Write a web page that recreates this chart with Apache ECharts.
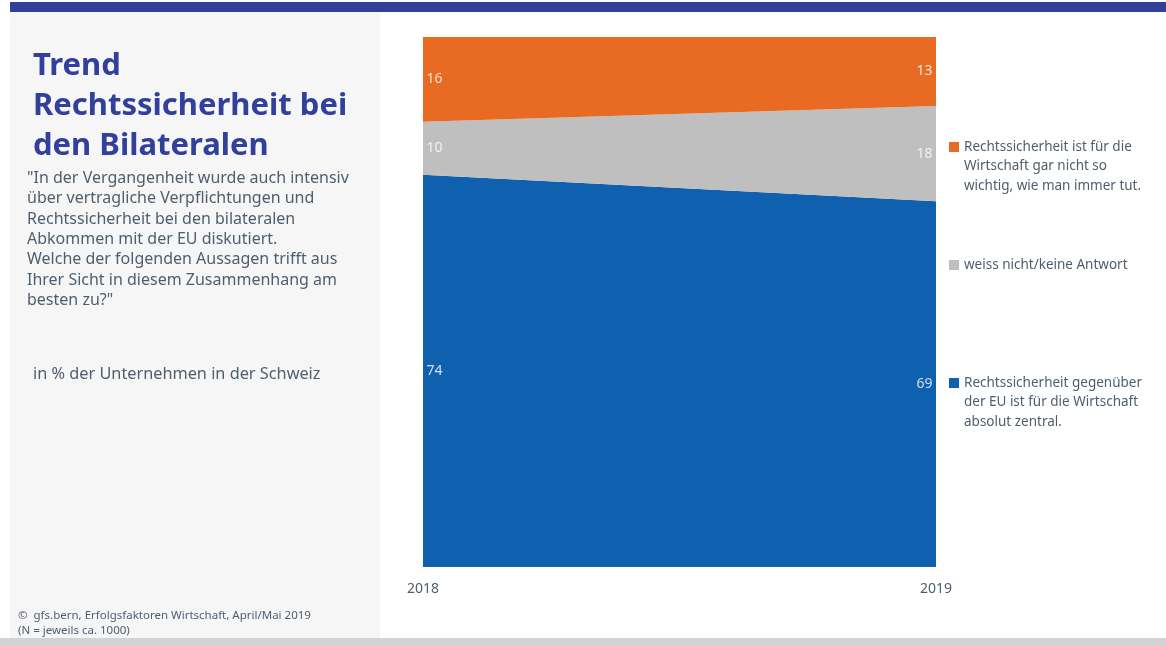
<!DOCTYPE html>
<html><head><meta charset="utf-8">
<script src="https://cdn.jsdelivr.net/npm/echarts@6/dist/echarts.min.js"></script>
<style>html,body{margin:0;padding:0;background:#fff}#c{width:1166px;height:645px}</style>
</head><body><div id="c"></div>
<script>
const years = ['2018', '2019'];
const seriesNames = [
  'Rechtssicherheit gegenüber der EU ist für die Wirtschaft absolut zentral.',
  'weiss nicht/keine Antwort',
  'Rechtssicherheit ist für die Wirtschaft gar nicht so wichtig, wie man immer tut.'
];
const legendLines = [
  'Rechtssicherheit gegenüber\nder EU ist für die Wirtschaft\nabsolut zentral.',
  'weiss nicht/keine Antwort',
  'Rechtssicherheit ist für die\nWirtschaft gar nicht so\nwichtig, wie man immer tut.'
];
const valZentral = [74, 69];
const valWeissNicht = [10, 18];
const valNichtWichtig = [16, 13];
const colors = ['#0F60AE', '#BFBFBF', '#E86A23'];

const titleText = 'Trend\nRechtssicherheit bei\nden Bilateralen';
const questionText = '"In der Vergangenheit wurde auch intensiv\nüber vertragliche Verpflichtungen und\nRechtssicherheit bei den bilateralen\nAbkommen mit der EU diskutiert.\nWelche der folgenden Aussagen trifft aus\nIhrer Sicht in diesem Zusammenhang am\nbesten zu?"';
const unitText = 'in % der Unternehmen in der Schweiz';
const sourceText = '©  gfs.bern, Erfolgsfaktoren Wirtschaft, April/Mai 2019\n(N = jeweils ca. 1000)';

const FONT = '"Noto Sans", "Open Sans", sans-serif';
const TXT = '#4F5E6E';
const allVals = [valZentral, valWeissNicht, valNichtWichtig];

// label points at the middle of each band
const labelData = [];
years.forEach((y, i) => {
  let base = 0;
  allVals.forEach(arr => {
    labelData.push({ value: [i, base + arr[i] / 2, arr[i]], label: { position: i === 0 ? 'right' : 'left' } });
    base += arr[i];
  });
});

const legendGraphics = [];
const legendCenters = [383, 265, 147];
seriesNames.forEach((n, k) => {
  legendGraphics.push({ type: 'rect', shape: { x: 949, y: legendCenters[k] - 5, width: 10, height: 10 }, style: { fill: colors[k] } });
  legendGraphics.push({ type: 'text', x: 964, y: legendCenters[k] - 10, style: { text: legendLines[k], font: '13.5px ' + FONT, fill: TXT, lineHeight: 19.5, verticalAlign: 'top' } });
});

const chart = echarts.init(document.getElementById('c'));
chart.setOption({
  animation: false,
  grid: { left: 423, right: 230, top: 37, bottom: 78 },
  xAxis: {
    type: 'category', data: years, boundaryGap: false,
    axisLine: { show: false }, axisTick: { show: false }, splitLine: { show: false },
    axisLabel: { color: TXT, fontSize: 14, fontFamily: FONT, margin: 15 }
  },
  yAxis: { type: 'value', min: 0, max: 100, show: false },
  series: [
    ...allVals.map((arr, k) => ({
      name: seriesNames[k], type: 'line', stack: 'total', data: arr,
      symbol: 'none', lineStyle: { width: 0 },
      areaStyle: { color: colors[k], opacity: 1 }, itemStyle: { color: colors[k] }
    })),
    {
      type: 'scatter', data: labelData, symbolSize: 1, silent: true, clip: false, z: 10,
      itemStyle: { color: 'rgba(0,0,0,0)' },
      label: { show: true, color: '#fff', fontSize: 14, fontFamily: FONT, distance: 3, formatter: p => p.value[2] }
    }
  ],
  graphic: [
    { type: 'rect', shape: { x: 10, y: 2, width: 1156, height: 10 }, style: { fill: '#31409B' } },
    { type: 'rect', shape: { x: 10, y: 12, width: 370, height: 626 }, style: { fill: '#F6F6F6' } },
    { type: 'rect', shape: { x: 0, y: 638, width: 1166, height: 7 }, style: { fill: '#D3D3D3' } },
    { type: 'text', x: 33, y: 46, style: { text: titleText, font: 'bold 31px ' + FONT, fill: '#31409B', lineHeight: 40, verticalAlign: 'top' } },
    { type: 'text', x: 27, y: 168, style: { text: questionText, font: '16px ' + FONT, fill: TXT, lineHeight: 20.4, verticalAlign: 'top' } },
    { type: 'text', x: 33, y: 366, style: { text: unitText, font: '16.3px ' + FONT, fill: TXT, verticalAlign: 'top' } },
    { type: 'text', x: 18, y: 608, style: { text: sourceText, font: '11.5px ' + FONT, fill: TXT, lineHeight: 15, verticalAlign: 'top' } },
    ...legendGraphics
  ]
});
</script></body></html>
